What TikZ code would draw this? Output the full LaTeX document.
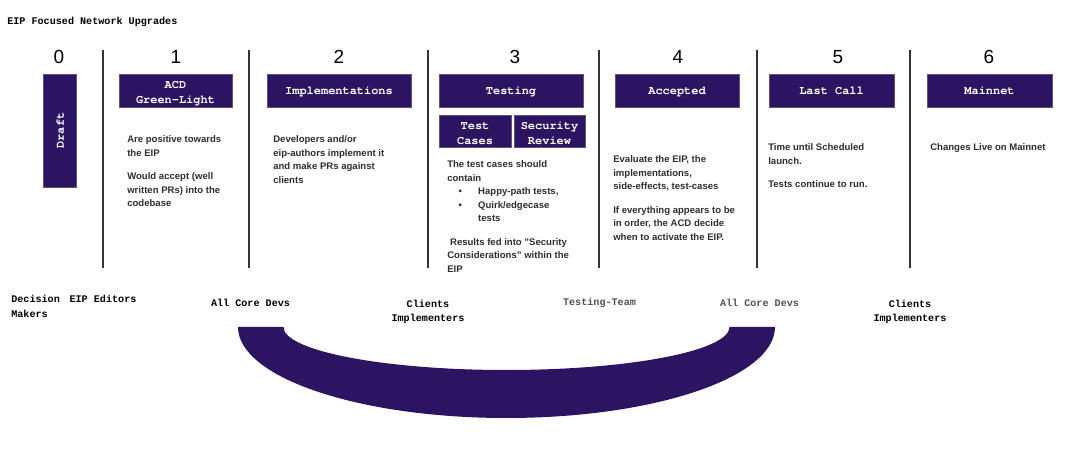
\documentclass[tikz,border=0pt]{standalone}
\usepackage{fontspec}
\setmainfont{Liberation Sans}
\newfontfamily\boxfont{TeX Gyre Cursor}
\newfontfamily\rolefont{Liberation Mono}
\usetikzlibrary{positioning}
\definecolor{eippurple}{HTML}{2D1462}
\definecolor{eipgray}{HTML}{2E2E2E}
\definecolor{eiplightgray}{HTML}{505050}
\definecolor{eipline}{HTML}{333333}
\newcommand{\boxtop}{\rule{0pt}{9pt}}

\begin{document}
\begin{tikzpicture}[
  every node/.style={inner sep=0pt},
  stagebox/.style={rectangle, draw=gray!60!eippurple, fill=eippurple, text=white, font=\boxfont\bfseries\fontsize{8.5}{10.7}\selectfont, minimum height=0.825cm, align=center, text height=6.4pt, text depth=0pt},
  twoline/.style={text height=, text depth=},
  stagenum/.style={font=\fontsize{13.5}{16}\selectfont, text=black},
  desc/.style={anchor=north west, align=left, text=eipgray, font=\bfseries\fontsize{6.8}{9.6}\selectfont},
  rolelabel/.style={font=\rolefont\bfseries\fontsize{7.2}{10.5}\selectfont, align=center, text=black},
  rolelight/.style={rolelabel, text=eiplightgray},
  divider/.style={eipline, line width=1pt},
]
\useasboundingbox (0,0) rectangle (27,11.75);

% Title
\node[rolelabel, anchor=west] (title) at (0.175, 11.2) {EIP Focused Network Upgrades};

% Stage numbers
\node[stagenum] (n0) at (1.475, 10.325) {0};
\node[stagenum] (n1) at (4.4, 10.325) {1};
\node[stagenum] (n2) at (8.475, 10.325) {2};
\node[stagenum] (n3) at (12.875, 10.325) {3};
\node[stagenum] (n4) at (16.95, 10.325) {4};
\node[stagenum] (n5) at (20.95, 10.325) {5};
\node[stagenum] (n6) at (24.725, 10.325) {6};

% Dividers
\draw[divider] (2.575, 10.5) -- (2.575, 5.05);
\draw[divider] (6.225, 10.5) -- (6.225, 5.05);
\draw[divider] (10.7, 10.5) -- (10.7, 5.05);
\draw[divider] (14.975, 10.5) -- (14.975, 5.05);
\draw[divider] (18.925, 10.5) -- (18.925, 5.05);
\draw[divider] (22.75, 10.5) -- (22.75, 5.05);

% Stage boxes
\node[stagebox, rotate=90, minimum width=2.825cm] (draft) at (1.4875, 8.4875) {Draft};
\node[stagebox, twoline, minimum width=2.825cm] (acd) at (4.3875, 9.4875) {\boxtop ACD\\Green-Light};
\node[stagebox, minimum width=3.6cm] (impl) at (8.475, 9.4875) {Implementations};
\node[stagebox, minimum width=3.6cm] (testing) at (12.775, 9.4875) {Testing};
\node[stagebox, twoline, minimum width=1.8cm, minimum height=0.8cm] (cases) at (11.875, 8.475) {\boxtop Test\\Cases};
\node[stagebox, twoline, minimum width=1.775cm, minimum height=0.8cm] (secrev) at (13.7375, 8.475) {\boxtop Security\\Review};
\node[stagebox, minimum width=3.1cm] (accepted) at (16.925, 9.4875) {Accepted};
\node[stagebox, minimum width=3.125cm] (lastcall) at (20.7875, 9.4875) {Last Call};
\node[stagebox, minimum width=3.125cm] (mainnet) at (24.7375, 9.4875) {Mainnet};

% Descriptions
\node[desc] (d1) at (3.175, 8.3625) {Are positive towards\\the EIP\\[7pt]Would accept (well\\written PRs) into the\\codebase};
\node[desc] (d2) at (6.825, 8.3625) {Developers and/or\\eip-authors implement it\\and make PRs against\\clients};
\node[desc] (d3) at (11.175, 7.7375) {The test cases should\\contain\\
  \hspace*{8pt}\makebox[14pt][l]{\textbullet}Happy-path tests,\\
  \hspace*{8pt}\makebox[14pt][l]{\textbullet}Quirk/edgecase\\
  \hspace*{22pt}tests\\[7pt]
  \hspace*{2pt}Results fed into "Security\\Considerations" within the\\EIP};
\node[desc] (d4) at (15.325, 7.8625) {Evaluate the EIP, the\\implementations,\\side-effects, test-cases\\[7pt]If everything appears to be\\in order, the ACD decide\\when to activate the EIP.};
\node[desc] (d5) at (19.2, 8.1625) {Time until Scheduled\\launch.\\[7pt]Tests continue to run.};
\node[desc] (d6) at (23.25, 8.1625) {Changes Live on Mainnet};

% Roles
\node[rolelabel, anchor=north west, align=left] (makers) at (0.275, 4.375) {Decision\\Makers};
\node[rolelabel] (editors) at (2.575, 4.275) {EIP Editors};
\node[rolelabel] (acd1) at (6.2625, 4.175) {All Core Devs};
\node[rolelabel] (clients1) at (10.7, 3.95) {Clients\\Implementers};
\node[rolelight] (testteam) at (14.9875, 4.175) {Testing-Team};
\node[rolelight] (acd2) at (18.9875, 4.175) {All Core Devs};
\node[rolelabel] (clients2) at (22.75, 3.95) {Clients\\Implementers};

% Arc between the two ACD stages
\fill[eippurple] (5.95, 3.575) arc[start angle=180, end angle=360, x radius=6.7125, y radius=2.275]
  -- (18.2375, 3.575) arc[start angle=0, end angle=-180, x radius=5.575, y radius=1.075] -- cycle;

\end{tikzpicture}
\end{document}
